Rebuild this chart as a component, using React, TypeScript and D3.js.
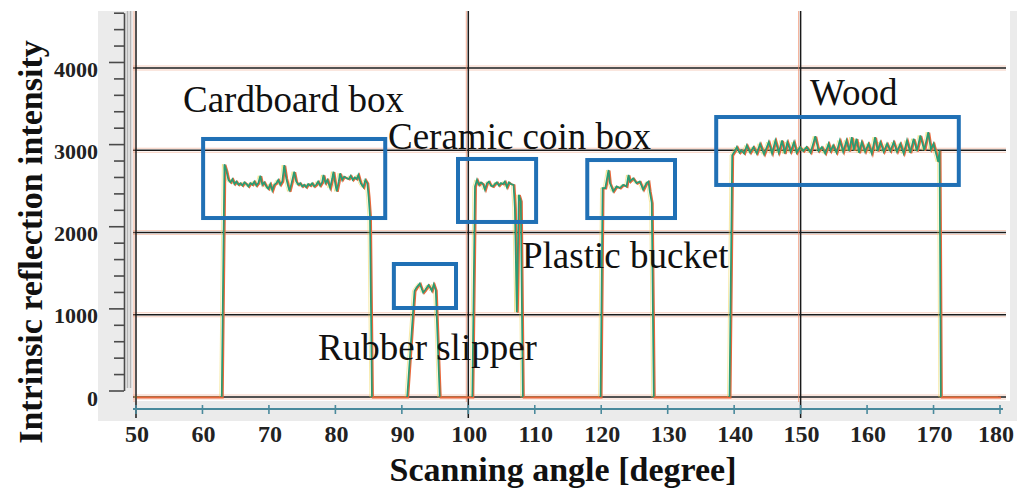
import { useEffect, useRef } from "react";
import * as d3 from "d3";

type Pt = [number, number];

// axis ticks
const xTicks = [50, 60, 70, 80, 90, 100, 110, 120, 130, 140, 150, 160, 170, 180];
const yTicks = [0, 1000, 2000, 3000, 4000];
const xGridAngles = [50, 100, 150];

// traces, [angle in degree, intensity]
const cardboardTrace: Pt[] = [
    [62.9, 0], [63.3, 2830], [63.6, 2750], [63.9, 2640], [64.2, 2610], [64.5, 2650],
    [64.8, 2590], [65.1, 2620], [65.4, 2580], [65.7, 2600], [66.0, 2570], [66.3, 2610],
    [66.6, 2590], [66.9, 2560], [67.2, 2600], [67.5, 2580], [67.8, 2620], [68.1, 2570],
    [68.4, 2600], [68.7, 2690], [69.0, 2580], [69.3, 2610], [69.6, 2560], [69.9, 2530],
    [70.2, 2590], [70.5, 2510], [70.8, 2580], [71.1, 2600], [71.4, 2640], [71.7, 2580],
    [72.0, 2620], [72.3, 2820], [72.6, 2660], [72.9, 2560], [73.1, 2500], [73.4, 2600],
    [73.8, 2740], [74.1, 2620], [74.4, 2580], [74.7, 2600], [75.0, 2560], [75.3, 2580],
    [75.6, 2550], [75.9, 2590], [76.2, 2570], [76.5, 2600], [76.8, 2560], [77.1, 2580],
    [77.4, 2620], [77.7, 2570], [78.0, 2610], [78.2, 2700], [78.5, 2600], [78.8, 2640],
    [79.2, 2540], [79.5, 2650], [79.7, 2740], [80.0, 2580], [80.2, 2500], [80.5, 2620],
    [80.7, 2720], [81.0, 2640], [81.3, 2680], [81.7, 2660], [82.0, 2650], [82.3, 2690],
    [82.6, 2640], [82.9, 2670], [83.2, 2650], [83.45, 2700], [83.8, 2600], [84.2, 2550],
    [84.5, 2640], [84.8, 2600], [85.0, 2430], [85.2, 2200], [85.5, 0],
];

const rubberTrace: Pt[] = [
    [90.8, 0], [91.9, 1290], [92.2, 1330], [92.7, 1380], [93.0, 1310], [93.2, 1270],
    [93.5, 1300], [94.0, 1360], [94.3, 1320], [94.5, 1290], [94.8, 1370], [95.1, 1300],
    [95.7, 0],
];

const ceramicTrace: Pt[] = [
    [100.6, 0], [101.0, 2560], [101.3, 2640], [101.6, 2580], [101.9, 2610], [102.2, 2590],
    [102.5, 2520], [102.8, 2600], [103.1, 2620], [103.4, 2570], [103.7, 2560], [104.0, 2590],
    [104.3, 2610], [104.6, 2570], [104.9, 2600], [105.2, 2590], [105.5, 2620], [105.8, 2550],
    [106.1, 2610], [106.4, 2590], [106.8, 2580], [107.0, 2300], [107.3, 1030], [107.6, 2460],
    [107.9, 2380], [108.2, 0],
];

const plasticTrace: Pt[] = [
    [119.9, 0], [120.2, 2540], [120.6, 2540], [121.1, 2760], [121.3, 2600], [121.8, 2500],
    [122.3, 2560], [122.8, 2540], [123.3, 2580], [123.8, 2560], [124.1, 2700], [124.3, 2620],
    [124.8, 2660], [125.3, 2600], [125.8, 2620], [126.3, 2520], [126.8, 2600], [127.1, 2620],
    [127.3, 2500], [127.6, 2360], [127.9, 0],
];

const woodTrace: Pt[] = [
    [139.3, 0], [139.7, 2940], [140.1, 2990], [140.4, 3040], [140.8, 2970], [141.1, 3000],
    [141.5, 2960], [141.9, 3060], [142.4, 2970], [142.9, 3040], [143.4, 2960], [143.9, 3080],
    [144.5, 2950], [145.2, 3100], [145.7, 2960], [146.2, 3120], [146.7, 2970], [147.2, 3120],
    [147.6, 2960], [148.0, 3100], [148.5, 2980], [149.0, 3100], [149.4, 2970], [149.9, 3040],
    [150.4, 2990], [150.9, 3040], [151.5, 2970], [152.2, 3170], [152.7, 2990], [153.2, 3040],
    [153.7, 2960], [154.2, 3080], [154.5, 2990], [154.9, 3060], [155.4, 2970], [155.9, 3120],
    [156.4, 2980], [156.9, 3120], [157.3, 2990], [157.7, 3160], [158.0, 3000], [158.4, 3140],
    [158.8, 2970], [159.2, 3100], [159.7, 2980], [160.2, 3080], [160.7, 2960], [161.2, 3160],
    [161.6, 2990], [162.0, 3100], [162.5, 2980], [163.0, 3080], [163.5, 2990], [164.0, 3100],
    [164.5, 2980], [165.0, 3080], [165.5, 2960], [166.0, 3120], [166.5, 2970], [167.0, 3140],
    [167.5, 2990], [168.0, 3180], [168.6, 3000], [169.2, 3220], [169.6, 3010], [170.0, 3080],
    [170.4, 2950], [170.7, 2860], [170.9, 3000], [171.1, 0],
];

// highlighted regions [angle from, angle to, intensity from, intensity to]
const regionBoxes = [
    { name: "Cardboard box", a0: 60.1, a1: 87.5, v0: 2176, v1: 3137 },
    { name: "Rubber slipper", a0: 88.8, a1: 98.15, v0: 1082, v1: 1617 },
    { name: "Ceramic coin box", a0: 98.45, a1: 110.2, v0: 2128, v1: 2894 },
    { name: "Plastic bucket", a0: 117.9, a1: 131.1, v0: 2176, v1: 2881 },
    { name: "Wood", a0: 137.3, a1: 173.8, v0: 2578, v1: 3404 },
];

const regionLabels = [
    { text: "Cardboard box", angle: 57.07, value: 3465 },
    { text: "Ceramic coin box", angle: 87.92, value: 3015 },
    { text: "Wood", angle: 151.41, value: 3550 },
    { text: "Plastic bucket", angle: 108.08, value: 1568 },
    { text: "Rubber slipper", angle: 77.39, value: 450 },
];

const objectTraces = [cardboardTrace, rubberTrace, ceramicTrace, plasticTrace, woodTrace];

export default function App() {
    const svgRef = useRef<SVGSVGElement>(null);

    useEffect(() => {
        const svg = d3.select(svgRef.current);
        svg.selectAll("*").remove();

        const width = 1024;
        const height = 498;
        const serif = "'Liberation Serif', 'Times New Roman', serif";

        const x = d3.scaleLinear().domain([50, 180]).range([136, 1000]);
        const y = d3.scaleLinear().domain([0, 4000]).range([397, 68]);
        // the tick ruler on the left sits a few pixels above the grid
        const yRuler = d3.scaleLinear().domain([0, 4600]).range([390.5, 12.7]);

        svg.attr("viewBox", `0 0 ${width} ${height}`)
            .attr("width", width)
            .attr("height", height);

        svg.append("rect").attr("width", width).attr("height", height).attr("fill", "#fff");

        // grey panel + white plot
        svg.append("rect")
            .attr("x", 98).attr("y", 11)
            .attr("width", 919).attr("height", 410)
            .attr("fill", "#ebebeb");
        svg.append("rect")
            .attr("x", 133).attr("y", 11)
            .attr("width", 877).attr("height", 390)
            .attr("fill", "#fff");

        // grid
        const grid = svg.append("g");
        yTicks.forEach((t) => {
            grid.append("line")
                .attr("x1", 133).attr("x2", 1006)
                .attr("y1", y(t) - 2).attr("y2", y(t) - 2)
                .attr("stroke", "#f6c4b0").attr("stroke-width", 1).attr("opacity", 0.8);
            grid.append("line")
                .attr("x1", 133).attr("x2", 1006)
                .attr("y1", y(t) + 2).attr("y2", y(t) + 2)
                .attr("stroke", "#f6c4b0").attr("stroke-width", 1).attr("opacity", 0.8);
            grid.append("line")
                .attr("x1", 133).attr("x2", 1006)
                .attr("y1", y(t)).attr("y2", y(t))
                .attr("stroke", "#1a1a1a").attr("stroke-width", 1.4);
        });
        xGridAngles.forEach((a) => {
            grid.append("line")
                .attr("x1", x(a) - 2).attr("x2", x(a) - 2)
                .attr("y1", 11).attr("y2", 402)
                .attr("stroke", "#f08a66").attr("stroke-width", 1).attr("opacity", 0.7);
            grid.append("line")
                .attr("x1", x(a)).attr("x2", x(a))
                .attr("y1", 11).attr("y2", 418)
                .attr("stroke", "#1a1a1a").attr("stroke-width", 1.5);
        });

        // left ruler
        const ruler = svg.append("g").attr("transform", "translate(124,0)");
        ruler.call(
            d3.axisLeft(yRuler)
                .tickValues(d3.range(0, 4601, 200))
                .tickSize(10)
                .tickSizeOuter(0)
                .tickFormat(() => "")
        );
        ruler.selectAll(".tick line")
            .attr("x2", (d) => ((d as number) % 1000 === 0 ? -15 : -10));
        ruler.selectAll(".domain, .tick line")
            .attr("stroke", "#4a4a4a").attr("stroke-width", 1.6);
        [127.5, 130.5].forEach((px) => {
            svg.append("line")
                .attr("x1", px).attr("x2", px)
                .attr("y1", 11).attr("y2", 388)
                .attr("stroke", "#b4b4b4").attr("stroke-width", 1.5);
        });

        // y tick labels (aligned with the grid)
        svg.append("g")
            .selectAll("text")
            .data(yTicks)
            .join("text")
            .attr("x", 98)
            .attr("y", (d) => y(d) + 1)
            .attr("text-anchor", "end")
            .attr("dominant-baseline", "central")
            .attr("font-family", serif)
            .attr("font-weight", "bold")
            .attr("font-size", 22)
            .attr("fill", "#222")
            .text((d) => d);

        // bottom axis
        const bottom = svg.append("g");
        bottom.append("line")
            .attr("x1", 133).attr("x2", 1003)
            .attr("y1", 409).attr("y2", 409)
            .attr("stroke", "#4a8a9c").attr("stroke-width", 1.8);
        bottom.selectAll(".xtick")
            .data(xTicks)
            .join("line")
            .attr("class", "xtick")
            .attr("x1", (d) => x(d)).attr("x2", (d) => x(d))
            .attr("y1", 405).attr("y2", 414)
            .attr("stroke", "#4a8a9c").attr("stroke-width", 1.6);
        bottom.selectAll("text")
            .data(xTicks)
            .join("text")
            .attr("x", (d) => x(d) + (d === 180 ? -4 : 1))
            .attr("y", 442)
            .attr("text-anchor", "middle")
            .attr("font-family", serif)
            .attr("font-weight", "bold")
            .attr("font-size", 24)
            .attr("fill", "#222")
            .text((d) => d);

        // traces
        const line = d3.line<Pt>()
            .x((d) => x(d[0]))
            .y((d) => y(d[1]));
        const fullTrace: Pt[] = [
            [50, 0],
            ...cardboardTrace,
            ...rubberTrace,
            ...ceramicTrace,
            ...plasticTrace,
            ...woodTrace,
            [180, 0],
        ];

        svg.append("path")
            .datum(fullTrace)
            .attr("d", line)
            .attr("transform", "translate(-2,0)")
            .attr("fill", "none")
            .attr("stroke", "#f2d34c")
            .attr("stroke-width", 1)
            .attr("opacity", 0.5);
        svg.append("path")
            .datum(fullTrace)
            .attr("d", line)
            .attr("transform", "translate(1,0.5)")
            .attr("fill", "none")
            .attr("stroke", "#e8673b")
            .attr("stroke-width", 2);
        svg.append("g")
            .selectAll("path")
            .data(objectTraces)
            .join("path")
            .attr("d", (d) => line(d))
            .attr("fill", "none")
            .attr("stroke", "#2a9c72")
            .attr("stroke-width", 1.7);

        // boxes
        svg.append("g")
            .selectAll("rect")
            .data(regionBoxes)
            .join("rect")
            .attr("x", (d) => x(d.a0))
            .attr("y", (d) => y(d.v1))
            .attr("width", (d) => x(d.a1) - x(d.a0))
            .attr("height", (d) => y(d.v0) - y(d.v1))
            .attr("fill", "none")
            .attr("stroke", "#2070b5")
            .attr("stroke-width", 4);

        // region labels
        svg.append("g")
            .selectAll("text")
            .data(regionLabels)
            .join("text")
            .attr("x", (d) => x(d.angle))
            .attr("y", (d) => y(d.value))
            .attr("font-family", serif)
            .attr("font-size", 37)
            .attr("fill", "#111")
            .text((d) => d.text);

        // axis titles
        svg.append("text")
            .attr("x", 563)
            .attr("y", 481)
            .attr("text-anchor", "middle")
            .attr("font-family", serif)
            .attr("font-weight", "bold")
            .attr("font-size", 34)
            .attr("fill", "#111")
            .text("Scanning angle [degree]");
        svg.append("text")
            .attr("transform", "translate(30,242) rotate(-90)")
            .attr("text-anchor", "middle")
            .attr("dominant-baseline", "central")
            .attr("font-family", serif)
            .attr("font-weight", "bold")
            .attr("font-size", 34)
            .attr("fill", "#111")
            .text("Intrinsic reflection intensity");
    }, []);

    return (
        <svg
            ref={svgRef}
            style={{ position: "absolute", left: 0, top: 0, display: "block" }}
        />
    );
}
